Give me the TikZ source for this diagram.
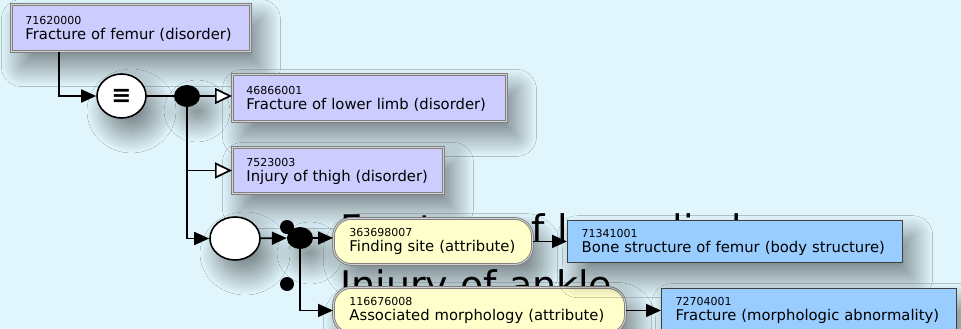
\documentclass[tikz,border=0pt]{standalone}
\usepackage{fontspec}
\setmainfont{DejaVu Sans}
\usepackage{xcolor}
\usepackage{tikz}
\usetikzlibrary{arrows.meta,shapes.geometric,shadows.blur}

\definecolor{slidebg}{RGB}{224,245,252}
\definecolor{disorderfill}{RGB}{204,204,255}
\definecolor{attrfill}{RGB}{255,255,204}
\definecolor{bodyfill}{RGB}{153,204,255}
\newcommand{\idfont}{\fontsize{11}{12}\selectfont}
\newcommand{\cpt}[2]{\vtop{\baselineskip=15pt\lineskiplimit=-20pt\hbox{\idfont #1}\hbox{#2}}}

\begin{document}
\begin{tikzpicture}[x=1pt,y=-1pt,
  shade/.style={blur shadow={shadow xshift=10pt,shadow yshift=-15pt,shadow blur radius=20pt,shadow blur steps=40,shadow opacity=48}},
  concept/.style={shade,anchor=north west,align=left,inner xsep=14pt,inner ysep=0pt,text height=8pt,font=\fontsize{14.8}{15.5}\selectfont},
  disorder/.style={concept,fill=disorderfill,draw=gray,double=gray!35,double distance=0.9pt,line width=0.9pt,minimum height=47pt,text depth=15pt},
  attr/.style={concept,fill=attrfill,draw=gray,double=gray!35,double distance=0.9pt,line width=0.9pt,rounded corners=18pt,inner xsep=16pt,minimum height=46pt,text depth=18pt},
  body/.style={concept,fill=bodyfill,draw=black!75,line width=1.4pt,minimum height=42pt,text depth=16pt},
  oper/.style={shade,ellipse,fill=white,draw=black,line width=1.6pt,inner sep=0pt},
  dot/.style={shade,ellipse,fill=black,minimum width=26pt,minimum height=22pt,inner sep=0pt},
  bullet/.style={circle,fill=black,minimum size=14pt,inner sep=0pt},
  slidetext/.style={anchor=base west,inner sep=0pt,font=\fontsize{38}{40}\selectfont},
  link/.style={line width=1.7pt,-{Triangle[length=15pt,width=13pt]}},
  isa/.style={line width=1.7pt,-{Triangle[length=17pt,width=16pt,fill=white]}}]

\clip (0,0) rectangle (961,329);
\fill[slidebg] (0,0) rectangle (961,329);

\node[slidetext] (line1) at (340,242) {Fracture of lower limb};
\node[slidetext] (line2) at (340,298) {Injury of ankle};
\node[bullet] (bul1) at (287,227) {};
\node[bullet] (bul2) at (287,284) {};

\node[disorder,text width=211pt] (femur) at (11,4) {\cpt{71620000}{Fracture of femur (disorder)}};
\node[oper,minimum width=49pt,minimum height=44pt,font=\fontsize{24}{24}\selectfont\bfseries] (equiv) at (121.5,96) {≡};
\node[dot] (dot1) at (187,96) {};
\node[disorder,text width=246pt] (lowerlimb) at (232,74) {\cpt{46866001}{Fracture of lower limb (disorder)}};
\node[disorder,text width=183pt,minimum height=46pt] (thigh) at (232,147) {\cpt{7523003}{Injury of thigh (disorder)}};

\node[oper,minimum width=50pt,minimum height=43pt] (anon) at (235,238.5) {};
\node[dot] (dot2) at (300,238) {};
\node[attr,text width=167pt] (findsite) at (333,218) {\cpt{363698007}{Finding site (attribute)}};
\node[attr,text width=260pt] (morph) at (333,287) {\cpt{116676008}{Associated morphology (attribute)}};
\node[body,text width=307pt] (bonestruct) at (567,220) {\cpt{71341001}{Bone structure of femur (body structure)}};
\node[body,text width=267pt] (fracture) at (661,288) {\cpt{72704001}{Fracture (morphologic abnormality)}};

\draw[link] ([xshift=48pt]femur.south west) |- (equiv.west);
\draw[line width=1.7pt] (equiv) -- (dot1);
\draw[isa] (dot1) -- (dot1 -| lowerlimb.west);
\draw[isa] (dot1) |- (thigh.west);
\draw[link] (dot1) |- (anon.west);

\draw[link] (anon) -- (dot2);
\draw[link] (dot2) -- (dot2 -| findsite.west);
\draw[link] (dot2) |- (morph.west);
\draw[link] (findsite.east) -- (findsite.east -| bonestruct.west);
\draw[link] (morph.east) -- (morph.east -| fracture.west);

\end{tikzpicture}
\end{document}
